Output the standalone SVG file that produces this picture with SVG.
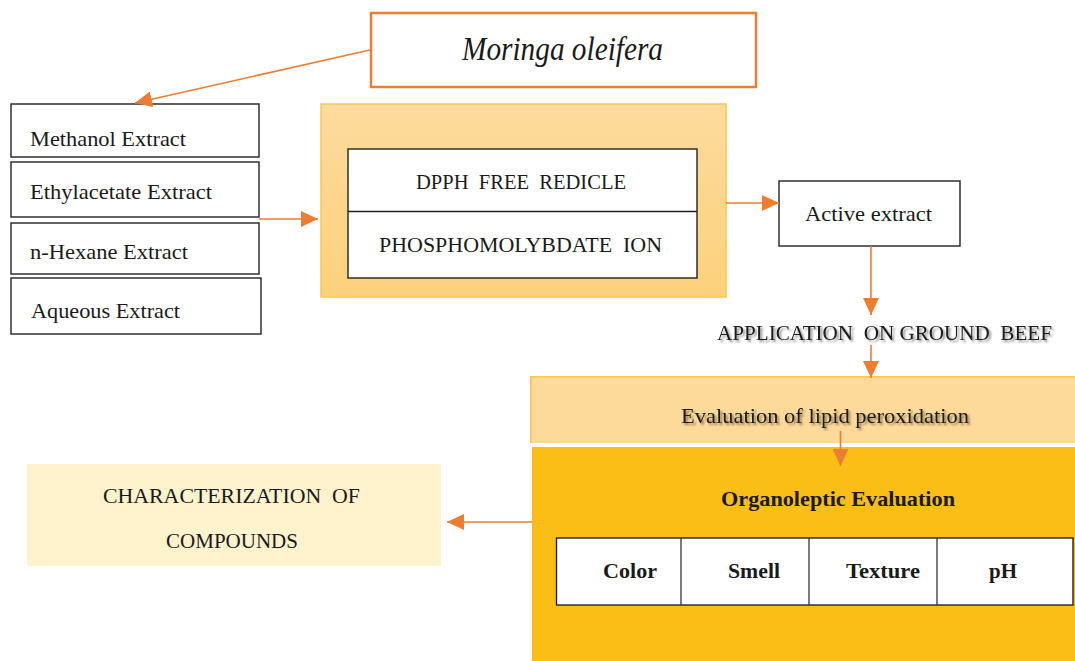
<svg xmlns="http://www.w3.org/2000/svg" width="1075" height="661" viewBox="0 0 1075 661">
  <style>
    text { font-family: "Liberation Serif", "Times New Roman", serif; fill: #1a1a1a; white-space: pre; }
    .t22 { font-size: 21.5px; }
    .cap { font-size: 20.5px; }
    .bold { font-size: 22px; font-weight: bold; }
    .box { fill: #ffffff; stroke: #222222; stroke-width: 1.4; }
    .edge { fill: none; stroke: #ED7D31; stroke-width: 1.6; }
  </style>
  <defs>
    <marker id="arrow" markerUnits="userSpaceOnUse" markerWidth="18" markerHeight="16" refX="17" refY="8" orient="auto">
      <path d="M0,0 L17,8 L0,16 Z" fill="#ED7D31"/>
    </marker>
    <linearGradient id="assayFill" x1="0" y1="0" x2="0" y2="1">
      <stop offset="0" stop-color="#FDDB9E"/>
      <stop offset="1" stop-color="#FCD17B"/>
    </linearGradient>
    <filter id="shadow" x="-5%" y="-30%" width="110%" height="160%">
      <feGaussianBlur in="SourceAlpha" stdDeviation="1.2"/>
      <feOffset dx="1.5" dy="1.5" result="b"/>
      <feComponentTransfer><feFuncA type="linear" slope="0.45"/></feComponentTransfer>
      <feMerge><feMergeNode/><feMergeNode in="SourceGraphic"/></feMerge>
    </filter>
  </defs>

  <!-- Plant source -->
  <g id="moringa">
    <rect x="371" y="13" width="385" height="74" fill="#ffffff" stroke="#ED7D31" stroke-width="2.5"/>
    <text x="462" y="60" font-size="33" font-style="italic" textLength="201" lengthAdjust="spacingAndGlyphs">Moringa oleifera</text>
  </g>

  <!-- Solvent extracts -->
  <g id="extracts">
    <rect class="box" x="11" y="104" width="248" height="53"/>
    <text class="t22" x="30" y="146" textLength="156" lengthAdjust="spacingAndGlyphs">Methanol Extract</text>
    <rect class="box" x="11" y="162" width="248" height="55"/>
    <text class="t22" x="30" y="199" textLength="182" lengthAdjust="spacingAndGlyphs">Ethylacetate Extract</text>
    <rect class="box" x="11" y="223" width="248" height="51"/>
    <text class="t22" x="30" y="259" textLength="158" lengthAdjust="spacingAndGlyphs">n-Hexane Extract</text>
    <rect class="box" x="11" y="278" width="250" height="56"/>
    <text class="t22" x="31" y="318" textLength="149" lengthAdjust="spacingAndGlyphs">Aqueous Extract</text>
  </g>

  <!-- Antioxidant assays -->
  <g id="assays">
    <rect x="321" y="104" width="405" height="193" fill="url(#assayFill)" stroke="#FCC84C" stroke-width="1.5"/>
    <rect class="box" x="348" y="149" width="349" height="129"/>
    <line x1="348" y1="211.5" x2="697" y2="211.5" stroke="#222222" stroke-width="1.4"/>
    <text class="cap" x="416" y="189" textLength="210" lengthAdjust="spacingAndGlyphs">DPPH  FREE  REDICLE</text>
    <text class="cap" x="379" y="252" textLength="283" lengthAdjust="spacingAndGlyphs">PHOSPHOMOLYBDATE  ION</text>
  </g>

  <g id="active-extract">
    <rect class="box" x="779" y="181" width="181" height="65"/>
    <text class="t22" x="805" y="221" textLength="127" lengthAdjust="spacingAndGlyphs">Active extract</text>
  </g>

  <g id="application">
    <text class="cap" x="717" y="340" textLength="335" lengthAdjust="spacingAndGlyphs" filter="url(#shadow)">APPLICATION  ON GROUND  BEEF</text>
  </g>

  <g id="lipid-peroxidation">
    <rect x="530" y="376" width="550" height="67" fill="#FDDA9A"/>
    <path d="M530.8,443 V376.8 H1075" fill="none" stroke="#FCC84C" stroke-width="1.6"/>
    <text class="t22" x="681" y="423" textLength="288" lengthAdjust="spacingAndGlyphs" filter="url(#shadow)">Evaluation of lipid peroxidation</text>
  </g>

  <g id="organoleptic">
    <rect x="532" y="447" width="548" height="220" fill="#FBBE16"/>
    <text class="bold" x="721" y="506" textLength="234" lengthAdjust="spacingAndGlyphs">Organoleptic Evaluation</text>
    <rect class="box" x="556.5" y="538" width="516.5" height="67"/>
    <line x1="681" y1="538" x2="681" y2="605" stroke="#444444" stroke-width="1.4"/>
    <line x1="809" y1="538" x2="809" y2="605" stroke="#444444" stroke-width="1.4"/>
    <line x1="937" y1="538" x2="937" y2="605" stroke="#444444" stroke-width="1.4"/>
    <text class="bold" x="603" y="578" textLength="54" lengthAdjust="spacingAndGlyphs">Color</text>
    <text class="bold" x="728" y="578" textLength="52" lengthAdjust="spacingAndGlyphs">Smell</text>
    <text class="bold" x="846" y="578" textLength="74" lengthAdjust="spacingAndGlyphs">Texture</text>
    <text class="bold" x="989" y="578" textLength="28" lengthAdjust="spacingAndGlyphs">pH</text>
  </g>

  <g id="characterization">
    <rect x="27" y="464" width="414" height="102" fill="#FEF3CC"/>
    <text class="cap" x="103" y="503" textLength="257" lengthAdjust="spacingAndGlyphs">CHARACTERIZATION  OF</text>
    <text class="cap" x="166" y="548" textLength="132" lengthAdjust="spacingAndGlyphs">COMPOUNDS</text>
  </g>

  <!-- Connectors -->
  <g id="connectors">
    <line class="edge" x1="370" y1="50" x2="135" y2="103" marker-end="url(#arrow)"/>
    <line class="edge" x1="259" y1="219" x2="318" y2="219" marker-end="url(#arrow)"/>
    <line class="edge" x1="726" y1="203" x2="779" y2="203" marker-end="url(#arrow)"/>
    <line class="edge" x1="871" y1="246" x2="871" y2="315" marker-end="url(#arrow)"/>
    <line class="edge" x1="871" y1="345" x2="871" y2="378" marker-end="url(#arrow)"/>
    <line class="edge" x1="840.5" y1="431" x2="840.5" y2="466" marker-end="url(#arrow)"/>
    <line class="edge" x1="532" y1="522" x2="447" y2="522" marker-end="url(#arrow)"/>
  </g>
</svg>
